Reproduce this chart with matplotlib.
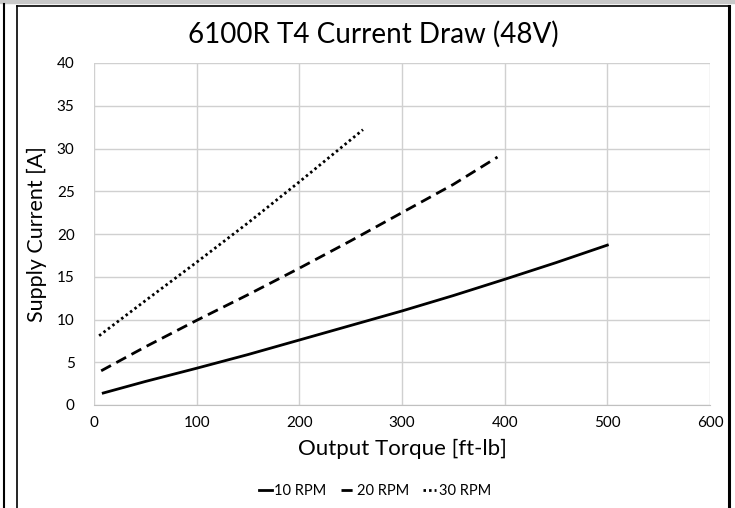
import matplotlib.pyplot as plt
from matplotlib.lines import Line2D
from matplotlib.patches import Rectangle

plt.rcParams["font.family"] = ["Lato", "DejaVu Sans"]

# 读图得到的数据点
torque_10 = [9, 50, 100, 150, 200, 250, 300, 350, 400, 450, 500]
current_10 = [1.4, 2.75, 4.3, 5.9, 7.6, 9.3, 11.0, 12.8, 14.7, 16.65, 18.7]

torque_20 = [7, 50, 100, 150, 200, 250, 300, 350, 393]
current_20 = [4.0, 6.8, 9.9, 12.9, 16.0, 19.2, 22.5, 25.8, 29.0]

torque_30 = [5, 50, 100, 150, 200, 262]
current_30 = [8.1, 12.2, 16.7, 21.3, 26.1, 32.2]

x_ticks = [0, 100, 200, 300, 400, 500, 600]
y_ticks = [0, 5, 10, 15, 20, 25, 30, 35, 40]

fig = plt.figure(figsize=(7.35, 5.08), dpi=100)
W, H = 735, 508

# 外框（截图里的边线）
fig.patches.append(Rectangle((0, 1 - 3 / H), 1, 3 / H, transform=fig.transFigure,
                             color="#c8c8c8", zorder=0))
fig.add_artist(Line2D([4 / W, 4 / W], [0, 1 - 4 / H], transform=fig.transFigure,
                      color="black", linewidth=1.5))
fig.add_artist(Line2D([17 / W, 17 / W], [0, 1 - 6 / H], transform=fig.transFigure,
                      color="black", linewidth=1.2))
fig.add_artist(Line2D([17 / W, 729 / W], [1 - 6 / H, 1 - 6 / H], transform=fig.transFigure,
                      color="black", linewidth=1.2))
fig.add_artist(Line2D([729 / W, 729 / W], [0, 1 - 6 / H], transform=fig.transFigure,
                      color="black", linewidth=2.2))

ax = fig.add_axes([94 / W, 103 / H, 616 / W, 342 / H])

ax.plot(torque_10, current_10, color="black", linewidth=2.0, linestyle="-", label="10 RPM")
ax.plot(torque_20, current_20, color="black", linewidth=2.0, linestyle=(0, (4, 2.2)), label="20 RPM")
ax.plot(torque_30, current_30, color="black", linewidth=2.0, linestyle=(0, (0.9, 1.1)), label="30 RPM")

ax.set_xlim(0, 600)
ax.set_ylim(0, 40)
ax.set_xticks(x_ticks)
ax.set_yticks(y_ticks)
ax.grid(True, color="#d0d0d0", linewidth=1.0)
ax.set_axisbelow(True)
for s in ax.spines.values():
    s.set_visible(False)
ax.spines["bottom"].set_visible(True)
ax.spines["bottom"].set_color("#c0c0c0")
ax.tick_params(length=0, labelsize=11, pad=8, colors="black")
ax.tick_params(axis="y", pad=14)

fig.suptitle("6100R T4 Current Draw (48V)", x=373 / W, y=1 - 34 / H, va="center", fontsize=20)
ax.set_xlabel("Output Torque [ft-lb]", fontsize=16, labelpad=6)
ax.set_ylabel("Supply Current [A]", fontsize=15.5, labelpad=7)

fig.legend(loc="center", bbox_to_anchor=(375 / W, 1 - 491 / H), ncol=3, frameon=False,
           fontsize=10.5, handlelength=0.9, handletextpad=0.15, columnspacing=1.0)

plt.savefig("out.png", dpi=100)
plt.close()
